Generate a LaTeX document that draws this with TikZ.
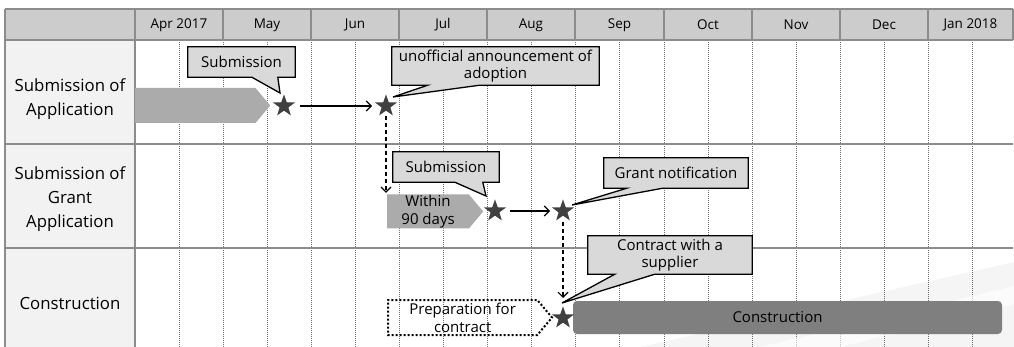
\documentclass[tikz,border=0pt]{standalone}
\usepackage{fontspec}
\setmainfont{Open Sans}
\usetikzlibrary{shapes.geometric,shapes.symbols,arrows.meta,calc}
\pgfdeclarelayer{gridlayer}
\pgfdeclarelayer{shapelayer}
\pgfsetlayers{gridlayer,shapelayer,main}
\definecolor{hdrfill}{HTML}{CCCCCC}
\definecolor{colfill}{HTML}{F2F2F2}
\definecolor{rulecol}{HTML}{8C8C8C}
\definecolor{gridcol}{HTML}{6E6E6E}
\definecolor{barfill}{HTML}{ABABAB}
\definecolor{calloutfill}{HTML}{D9D9D9}
\definecolor{starfill}{HTML}{404040}
\definecolor{workfill}{HTML}{7F7F7F}

\begin{document}
\begin{tikzpicture}[x=1pt,y=-1pt,
  gridline/.style={draw=gridcol, line width=0.7pt, dash pattern=on 1pt off 1pt},
  ruleline/.style={draw=rulecol, line width=1.1pt},
  hdrtext/.style={font=\fontsize{13.5}{16}\selectfont, inner sep=0pt},
  rowlabel/.style={font=\fontsize{16.8}{24}\selectfont, align=center, inner sep=0pt},
  milestone/.style={star, star points=5, star point ratio=2.5, fill=starfill, draw=none, minimum size=23.2pt, inner sep=0pt},
  callouttext/.style={font=\fontsize{15}{17.5}\selectfont, align=center, inner sep=0pt},
  calloutshape/.style={fill=calloutfill, draw=black, line width=1.3pt, line join=miter},
  bar/.style={signal, signal to=east, signal pointer angle=100, fill=barfill, inner sep=0pt, anchor=west},
  flow/.style={-{Straight Barb[length=5pt,width=10pt]}, line width=1.1pt},
  dflow/.style={flow, dash pattern=on 4pt off 3pt}
]
\useasboundingbox (0,0) rectangle (1014,347);

% table background and grid
\begin{pgfonlayer}{gridlayer}
  \fill[white] (0,0) rectangle (1014,347);
  \fill[colfill] (5,40) rectangle (135,352);
  \fill[hdrfill] (5,9) rectangle (1013,40);
  \foreach \x in {179,223,267,311,355,399,443,487,531,575,619,664,708,752,796,840,884,928,972}
    \draw[gridline] (\x,40) -- (\x,352);
  \foreach \x in {223,311,399,487,575,664,752,840,928}
    \draw[ruleline] (\x,9) -- (\x,40);
  \foreach \y in {9,40,144,248}
    \draw[ruleline] (5,\y) -- (1013,\y);
  \draw[ruleline] (5,9) -- (5,352);
  \draw[ruleline] (135,9) -- (135,352);
  \draw[ruleline] (1013,9) -- (1013,40);
  % faint sheen in the lower right corner
  \fill[black, opacity=0.04] (640,347) -- (1014,262) -- (1014,347) -- cycle;
  \fill[white, opacity=0.6] (760,347) -- (1014,286) -- (1014,304) -- (840,347) -- cycle;
\end{pgfonlayer}

% month headings
\foreach \x/\m [count=\i] in {179/Apr 2017,267/May,355/Jun,443/Jul,531/Aug,619.5/Sep,708/Oct,796/Nov,884/Dec,970.5/Jan 2018}
  \node[hdrtext] (m\i) at (\x,25) {\m};

% row labels
\node[rowlabel] (r1) at (70,99) {Submission of\\Application};
\node[rowlabel] (r2) at (70,199) {Submission of\\Grant\\Application};
\node[rowlabel] (r3) at (70,303) {Construction};

% bars
\node[bar, minimum width=135pt, minimum height=35pt] (b1) at (135,105.5) {};
\node[bar, minimum width=96pt, minimum height=34pt, font=\fontsize{15}{17.5}\selectfont, align=center] (b2) at (387,211.5) {Within\\90 days};
\node[bar, fill=none, draw=black, line width=2pt, dash pattern=on 2pt off 2pt,
      minimum width=164pt, minimum height=35pt, font=\fontsize{15}{18}\selectfont, align=center] (prep) at (387,317.5) {Preparation for\\contract};
\node[fill=workfill, rounded corners=4pt, minimum width=429pt, minimum height=33pt, inner sep=0pt] (work) at (787.5,317.5) {};
\node[font=\fontsize{15}{17}\selectfont, inner sep=0pt] (worklabel) at (777.5,317.5) {Construction};

% milestones
\node[milestone] (s1) at (284,106) {};
\node[milestone] (s2) at (386,106) {};
\node[milestone] (s3) at (495,211) {};
\node[milestone] (s4) at (563,211) {};
\node[milestone] (s5) at (563,318) {};

% callout texts
\node[callouttext, minimum width=107pt, minimum height=30pt] (c1) at (241.5,62) {Submission};
\node[callouttext, minimum width=207pt, minimum height=38pt] (c2) at (495.5,66) {unofficial announcement of\\adoption};
\node[callouttext, minimum width=106pt, minimum height=30pt] (c3) at (446,167) {Submission};
\node[callouttext, minimum width=144pt, minimum height=30pt] (c4) at (676,173) {Grant notification};
\node[callouttext, minimum width=164pt, minimum height=38pt] (c5) at (670,255) {Contract with a\\supplier};

% callout outlines with their pointers
\begin{pgfonlayer}{shapelayer}
  \draw[calloutshape] (c1.north west) -- (c1.north east) -- (c1.south east)
    -- ($(c1.south west)+(90,0)$) -- ($(s1.center)+(-4,-13)$) -- ($(c1.south west)+(64,0)$) -- (c1.south west) -- cycle;
  \draw[calloutshape] (c2.north west) -- (c2.north east) -- (c2.south east)
    -- ($(c2.south west)+(88,0)$) -- ($(s2.center)+(7,-9)$) -- ($(c2.south west)+(36,0)$) -- (c2.south west) -- cycle;
  \draw[calloutshape] (c3.north west) -- (c3.north east) -- (c3.south east)
    -- ($(c3.south west)+(90,0)$) -- ($(s3.center)+(-9,-15)$) -- ($(c3.south west)+(62,0)$) -- (c3.south west) -- cycle;
  \draw[calloutshape] (c4.north west) -- (c4.north east) -- (c4.south east)
    -- ($(c4.south west)+(59,0)$) -- ($(s4.center)+(9,-6)$) -- ($(c4.south west)+(23,0)$) -- (c4.south west) -- cycle;
  \draw[calloutshape] (c5.north west) -- (c5.north east) -- (c5.south east)
    -- ($(c5.south west)+(67,0)$) -- ($(s5.center)+(-1,-15)$) -- ($(c5.south west)+(27,0)$) -- (c5.south west) -- cycle;
\end{pgfonlayer}

% connectors
\draw[flow, shorten <=16pt, shorten >=14pt] (s1.center) -- (s2.center);
\draw[flow, shorten <=15pt, shorten >=13pt] (s3.center) -- (s4.center);
\draw[dflow, shorten <=10pt, shorten >=1.5pt] (s2.center) -- (s2.center |- b2.north);
\draw[dflow, shorten <=11pt, shorten >=20pt] (s4.center) -- (s5.center);
\end{tikzpicture}
\end{document}
